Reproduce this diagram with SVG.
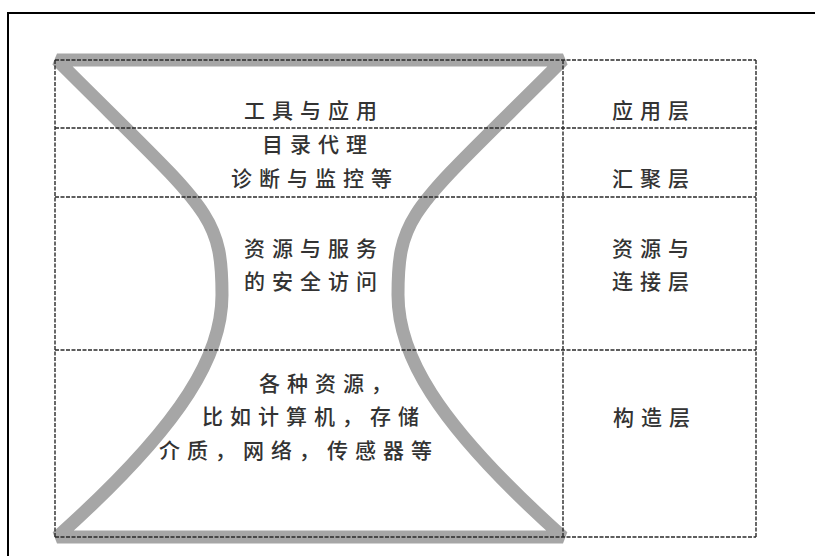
<svg xmlns="http://www.w3.org/2000/svg" width="815" height="556" viewBox="0 0 815 556">
  <style>
    .dash { stroke: #2a2a2a; stroke-width: 1.4; stroke-dasharray: 4 1.5; fill: none; }
    .t { font-family: "Noto Sans CJK SC", "Noto Sans", sans-serif; font-size: 21px; font-weight: 500; letter-spacing: 7px; fill: #333333; }
    .glass { fill: none; stroke: #a6a6a6; stroke-width: 13; stroke-linejoin: miter; stroke-miterlimit: 1.4; }
  </style>
  <rect width="815" height="556" fill="#ffffff"/>
  <rect id="frame" x="8" y="13" width="830" height="570" fill="none" stroke="#000" stroke-width="2"/>

  <g id="connectors">
    <path class="glass" d="M57,60 L563,60 C413,210 398,212 398,295 C398,352 432,420 563,537 L57,537 C188,420 222,352 222,295 C222,212 207,210 57,60 Z"/>
  </g>

  <g id="grid">
    <line class="dash" x1="55" y1="60" x2="756" y2="60"/>
    <line class="dash" x1="55" y1="128" x2="756" y2="128"/>
    <line class="dash" x1="55" y1="197" x2="756" y2="197"/>
    <line class="dash" x1="55" y1="350" x2="756" y2="350"/>
    <line class="dash" x1="55" y1="537" x2="756" y2="537"/>
    <line class="dash" x1="55" y1="60" x2="55" y2="537"/>
    <line class="dash" x1="563" y1="60" x2="563" y2="537"/>
    <line class="dash" x1="756" y1="60" x2="756" y2="537"/>
  </g>

  <g id="node-app">
    <text class="t" x="244" y="118">工具与应用</text>
  </g>
  <g id="node-collective">
    <text class="t" x="262" y="152">目录代理</text>
    <text class="t" x="231" y="186">诊断与监控等</text>
  </g>
  <g id="node-resource">
    <text class="t" x="244" y="256">资源与服务</text>
    <text class="t" x="244" y="289">的安全访问</text>
  </g>
  <g id="node-fabric">
    <text class="t" x="259" y="391">各种资源，</text>
    <text class="t" x="202" y="424">比如计算机，存储</text>
    <text class="t" x="159" y="458">介质，网络，传感器等</text>
  </g>

  <g id="label-app">
    <text class="t" x="612" y="118">应用层</text>
  </g>
  <g id="label-collective">
    <text class="t" x="612" y="186">汇聚层</text>
  </g>
  <g id="label-resource">
    <text class="t" x="612" y="256">资源与</text>
    <text class="t" x="612" y="289">连接层</text>
  </g>
  <g id="label-fabric">
    <text class="t" x="613" y="425">构造层</text>
  </g>
</svg>
